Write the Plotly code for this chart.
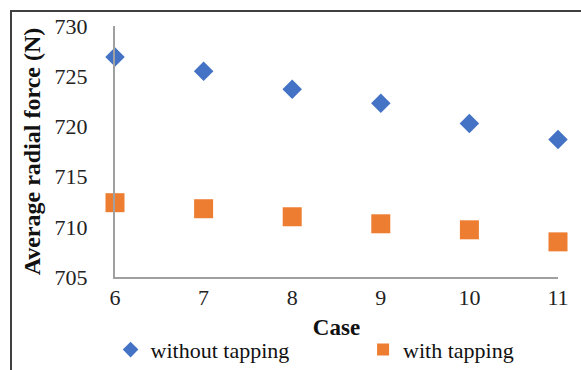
import plotly.graph_objects as go

cases = [6, 7, 8, 9, 10, 11]
without_tapping = [726.9, 725.5, 723.7, 722.3, 720.3, 718.7]
with_tapping = [712.4, 711.8, 711.0, 710.3, 709.7, 708.5]
y_ticks = [705, 710, 715, 720, 725, 730]

font_family = "Liberation Serif, Times New Roman, serif"

fig = go.Figure()
fig.add_trace(go.Scatter(
    x=cases, y=without_tapping, mode="markers", name="without tapping",
    marker=dict(symbol="diamond", size=15, color="#4472C4"),
    cliponaxis=False, legend="legend",
))
fig.add_trace(go.Scatter(
    x=cases, y=with_tapping, mode="markers", name="with tapping",
    marker=dict(symbol="square", size=19, color="#ED7D31"),
    cliponaxis=False, legend="legend2",
))

legend_common = dict(
    orientation="h", yanchor="middle", xanchor="left",
    font=dict(size=22, family=font_family, color="#111111"),
    bgcolor="rgba(0,0,0,0)", itemsizing="constant", itemwidth=30,
)

fig.update_layout(
    width=581, height=370,
    margin=dict(l=115, r=23, t=26, b=93, autoexpand=False),
    paper_bgcolor="white", plot_bgcolor="white",
    font=dict(family=font_family, size=22, color="#222222"),
    showlegend=True,
    legend=dict(x=-0.01, y=-0.29, **legend_common),
    legend2=dict(x=0.56, y=-0.29, **legend_common),
    shapes=[dict(
        type="rect", xref="paper", yref="paper",
        x0=-104 / 443, x1=1.1, y0=-0.5, y1=1 + 15 / 251,
        line=dict(color="#404040", width=2), fillcolor="rgba(0,0,0,0)", layer="below",
    )],
)

fig.update_xaxes(
    range=[6, 11], tickvals=cases, showgrid=False, zeroline=False,
    showline=True, linecolor="#A0A0A0", linewidth=2, ticks="",
    tickfont=dict(size=22, family=font_family, color="#222222"),
    title=dict(text="<b>Case</b>", font=dict(size=23, family=font_family, color="#111111"), standoff=9),
)
fig.update_yaxes(
    range=[705, 730], tickvals=y_ticks, showgrid=False, zeroline=False,
    showline=True, linecolor="#A0A0A0", linewidth=2, ticks="",
    ticklabelstandoff=21,
    tickfont=dict(size=22, family=font_family, color="#222222"),
    title=dict(text="<b>Average radial force (N)</b>", font=dict(size=24, family=font_family, color="#111111"), standoff=7),
)

fig.write_html("out.html", config={"displayModeBar": False},
               post_script="document.body.style.margin='0';")
